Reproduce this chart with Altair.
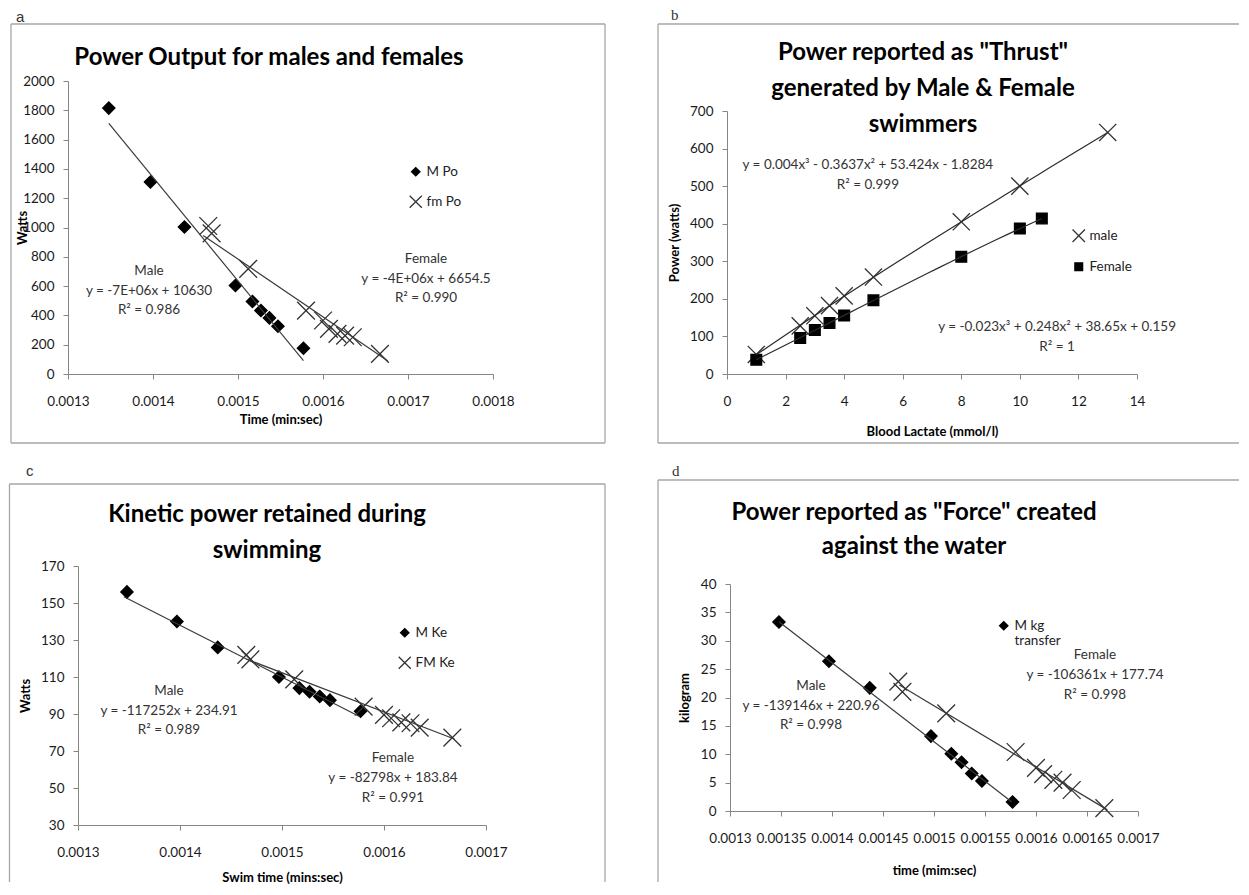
import altair as alt
import pandas as pd

FONT = "Lato"
one = pd.DataFrame({"k": [0]})

# ---------------- data ----------------
male_time = [0.001348, 0.001397, 0.001437, 0.001497, 0.001517, 0.001527, 0.001537, 0.001547, 0.001577]
female_time = [0.001465, 0.001469, 0.001512, 0.00158, 0.0016, 0.001607, 0.001617, 0.001626, 0.001635, 0.001667]

# (a) power output
a_male_watts = [1815, 1311, 1003, 604, 495, 433, 383, 326, 176]
a_female_watts = [1010, 960, 718, 433, 365, 308, 274, 262, 251, 137]
a_male_trend_time = [0.001348, 0.001577]
a_male_trend_watts = [1710, 91]
a_female_trend_time = [0.001459, 0.001676]
a_female_trend_watts = [946, 91]
a_male_note = ["Male", "y = -7E+06x + 10630", "R\u00b2 = 0.986"]
a_male_note_time = 0.0013953
a_male_note_watts = [703, 567, 437]
a_female_note = ["Female", "y = -4E+06x + 6654.5", "R\u00b2 = 0.990"]
a_female_note_time = 0.0017212
a_female_note_watts = [785, 648, 519]

# (b) thrust vs blood lactate
b_male_lactate = [1, 2.5, 3, 3.5, 4, 5, 8, 10, 13]
b_male_power = [52, 128, 155, 182, 208, 258, 405, 500, 643]
b_female_lactate = [1, 2.5, 3, 3.5, 4, 5, 8, 10, 10.75]
b_female_power = [38, 96, 117, 136, 156, 196, 312, 387, 414]
b_male_note = ["y = 0.004x\u00b3 - 0.3637x\u00b2 + 53.424x - 1.8284", "R\u00b2 = 0.999"]
b_male_note_lactate = 4.81
b_male_note_power = [556, 503]
b_female_note = ["y = -0.023x\u00b3 + 0.248x\u00b2 + 38.65x + 0.159", "R\u00b2 = 1"]
b_female_note_lactate = 11.27
b_female_note_power = [125, 72]

# (c) kinetic power
c_male_watts = [156, 140, 126, 110, 104, 102, 99.5, 97.5, 91.5]
c_female_watts = [122, 119.5, 108.7, 94, 89.5, 87.7, 85.5, 85, 82.6, 77.2]
c_male_trend_time = [0.001345, 0.001576]
c_male_trend_watts = [153.4, 88.6]
c_female_trend_time = [0.001465, 0.001669]
c_female_trend_watts = [119.7, 76.5]
c_male_note = ["Male", "y = -117252x + 234.91", "R\u00b2 = 0.989"]
c_male_note_time = 0.0013892
c_male_note_watts = [102.4, 91.6, 81.4]
c_female_note = ["Female", "y = -82798x + 183.84", "R\u00b2 = 0.991"]
c_female_note_time = 0.0016088
c_female_note_watts = [66.2, 55.4, 44.6]

# (d) force
d_male_kg = [33.3, 26.4, 21.7, 13.2, 10.1, 8.6, 6.6, 5.3, 1.6]
d_female_kg = [22.8, 21.0, 17.2, 10.4, 7.6, 6.5, 5.5, 5.0, 3.7, 0.5]
d_male_trend_time = [0.001348, 0.001576]
d_male_trend_kg = [33.35, 1.64]
d_female_trend_time = [0.001466, 0.00167]
d_female_trend_kg = [22.2, 0.2]
d_male_note = ["Male", "y = -139146x + 220.96", "R\u00b2 = 0.998"]
d_male_note_time = 0.0013794
d_male_note_kg = [22.03, 18.5, 15.15]
d_female_note = ["Female", "y = -106361x + 177.74", "R\u00b2 = 0.998"]
d_female_note_time = 0.0016578
d_female_note_kg = [27.49, 23.96, 20.44]

# tick values
time_ticks_a = [0.0013, 0.0014, 0.0015, 0.0016, 0.0017, 0.0018]
time_ticks_c = [0.0013, 0.0014, 0.0015, 0.0016, 0.0017]
time_ticks_d = [0.0013, 0.00135, 0.0014, 0.00145, 0.0015, 0.00155, 0.0016, 0.00165, 0.0017]
watts_ticks_a = list(range(0, 2001, 200))
lactate_ticks = list(range(0, 15, 2))
power_ticks_b = list(range(0, 701, 100))
watts_ticks_c = list(range(30, 171, 20))
kg_ticks_d = list(range(0, 41, 5))


def pts(x, y, name):
    return pd.DataFrame({"x": x, "y": y, "series": name})


def notes(lines, x, ys):
    return pd.DataFrame({"x": [x] * len(lines), "y": ys, "text": lines})


def xpath(k):
    return f"M-{k},-{k}L{k},{k}M-{k},{k}L{k},-{k}"


def panel(cfg):
    xs = alt.Scale(domain=cfg["xdom"], range=[cfg["px0"], cfg["px1"]], nice=False, zero=False)
    ys = alt.Scale(domain=cfg["ydom"], range=[cfg["pyb"], cfg["pyt"]], nice=False, zero=False)
    xa = alt.Axis(values=cfg["xvals"], format=cfg["xfmt"], title=cfg["xtitle"],
                  offset=cfg["pyb"] - cfg["h"], labelPadding=15,
                  titleX=(cfg["px0"] + cfg["px1"]) / 2, titleY=cfg["xtitle_dy"],
                  titleBaseline="middle", titleAlign="center")
    ya = alt.Axis(values=cfg["yvals"], format=cfg["yfmt"], title=cfg["ytitle"],
                  offset=-cfg["px0"], labelPadding=9,
                  titleX=cfg["ytitle_dx"], titleY=(cfg["pyt"] + cfg["pyb"]) / 2,
                  titleBaseline="middle", titleAlign="center", titleAngle=270)
    X = alt.X("x:Q", scale=xs, axis=xa)
    Y = alt.Y("y:Q", scale=ys, axis=ya)

    layers = []
    for (x1, y1, x2, y2) in cfg["frame"]:
        layers.append(alt.Chart(one).mark_rule(color="#a6a6a6", strokeWidth=1.3).encode(
            x=alt.value(x1), y=alt.value(y1), x2=alt.value(x2), y2=alt.value(y2)))
    layers.append(alt.Chart(one).mark_text(
        text=cfg["letter"], font=cfg["letter_font"], fontSize=15, align="left",
        baseline="alphabetic", color="#333").encode(
        x=alt.value(cfg["letter_xy"][0]), y=alt.value(cfg["letter_xy"][1])))
    layers.append(alt.Chart(one).mark_text(
        text=cfg["title"], font=FONT, fontSize=24, fontWeight="bold", align="center",
        baseline="alphabetic", lineHeight=cfg["title_lh"], color="black").encode(
        x=alt.value(cfg["title_xy"][0]), y=alt.value(cfg["title_xy"][1])))

    leg_kw = dict(title=None, orient="none", legendX=cfg["legend_xy"][0], legendY=cfg["legend_xy"][1],
                  direction="vertical", symbolSize=cfg["legend_symbol"], symbolStrokeWidth=1.3,
                  labelFont=FONT, labelFontSize=13.5, labelColor="#222", rowPadding=14,
                  padding=0, labelOffset=4)
    if "legend_values" in cfg:
        leg_kw["values"] = cfg["legend_values"]
    if "legend_expr" in cfg:
        leg_kw["labelExpr"] = cfg["legend_expr"]
    leg = alt.Legend(**leg_kw)
    dom = cfg["series"]
    layers.append(alt.Chart(cfg["points"]).mark_point(
        size=cfg["size"], strokeWidth=1.3, opacity=1).encode(
        x=X, y=Y,
        shape=alt.Shape("series:N", scale=alt.Scale(domain=dom, range=cfg["shapes"]), legend=leg),
        fill=alt.Fill("series:N", scale=alt.Scale(domain=dom, range=cfg["fills"]), legend=leg),
        stroke=alt.Stroke("series:N", scale=alt.Scale(domain=dom, range=cfg["strokes"]), legend=leg),
    ))
    if cfg.get("poly"):
        layers.append(alt.Chart(cfg["points"]).transform_regression(
            "x", "y", groupby=["series"], method="poly", order=3).mark_line(
            color="#2a2a2a", strokeWidth=1.2).encode(x=X, y=Y, detail="series:N"))
    else:
        layers.append(alt.Chart(cfg["trend"]).mark_line(color="#3a3a3a", strokeWidth=1.2).encode(
            x=X, y=Y, detail="series:N"))
    layers.append(alt.Chart(cfg["notes"]).mark_text(
        font=FONT, fontSize=13.5, color="#333", align="center", baseline="middle").encode(
        x=X, y=Y, text="text:N"))
    return alt.layer(*layers).properties(width=cfg["w"], height=cfg["h"])


BLACK = "#000000"
XC = "#333333"

pa = panel(dict(
    w=622, h=452, px0=59, px1=484, pyt=71, pyb=364,
    xdom=[0.0013, 0.0018], ydom=[0, 2000], xvals=time_ticks_a, yvals=watts_ticks_a,
    xfmt="~g", yfmt="d", xtitle="Time (min:sec)", ytitle="Watts", xtitle_dy=45, ytitle_dx=-46,
    frame=[(2, 14, 596, 14), (2, 433, 596, 433), (2, 14, 2, 433), (596, 14, 596, 433)],
    letter="a", letter_font="Liberation Sans", letter_xy=(7, 12),
    title=["Power Output for males and females"], title_lh=36, title_xy=(260, 55),
    legend_xy=(400, 155), legend_symbol=70,
    series=["M Po", "fm Po"], shapes=["diamond", xpath(1.45)], fills=[BLACK, "transparent"],
    strokes=[BLACK, XC], size=150,
    points=pd.concat([pts(male_time, a_male_watts, "M Po"), pts(female_time, a_female_watts, "fm Po")]),
    trend=pd.concat([pts(a_male_trend_time, a_male_trend_watts, "M Po"),
                     pts(a_female_trend_time, a_female_trend_watts, "fm Po")]),
    notes=pd.concat([notes(a_male_note, a_male_note_time, a_male_note_watts),
                     notes(a_female_note, a_female_note_time, a_female_note_watts)]),
))

pb = panel(dict(
    w=608, h=452, px0=96, px1=506, pyt=101, pyb=364,
    xdom=[0, 14], ydom=[0, 700], xvals=lactate_ticks, yvals=power_ticks_b,
    xfmt="d", yfmt="d", xtitle="Blood Lactate (mmol/l)", ytitle="Power (watts)", xtitle_dy=57, ytitle_dx=-53,
    frame=[(27, 14, 608, 14), (27, 433, 608, 433), (27, 14, 27, 433)],
    letter="b", letter_font="Liberation Serif", letter_xy=(40, 10),
    title=['Power reported as "Thrust"', "generated by Male & Female", "swimmers"], title_lh=36,
    title_xy=(292, 50),
    legend_xy=(441, 219), legend_symbol=60,
    series=["male", "Female"], shapes=[xpath(1.6), "square"], fills=["transparent", BLACK],
    strokes=[XC, BLACK], size=115, poly=True,
    points=pd.concat([pts(b_male_lactate, b_male_power, "male"), pts(b_female_lactate, b_female_power, "Female")]),
    notes=pd.concat([notes(b_male_note, b_male_note_lactate, b_male_note_power),
                     notes(b_female_note, b_female_note_lactate, b_female_note_power)]),
))

pc = panel(dict(
    w=622, h=420, px0=69, px1=477, pyt=104, pyb=363,
    xdom=[0.0013, 0.0017], ydom=[30, 170], xvals=time_ticks_c, yvals=watts_ticks_c,
    xfmt="~g", yfmt="d", xtitle="Swim time (mins:sec)", ytitle="Watts", xtitle_dy=52, ytitle_dx=-53,
    frame=[(0.5, 22, 596, 22), (0.5, 22, 0.5, 420), (596, 22, 596, 420)],
    letter="c", letter_font="Liberation Sans", letter_xy=(17, 14),
    title=["Kinetic power retained during", "swimming"], title_lh=35.5, title_xy=(258, 60),
    legend_xy=(389, 164), legend_symbol=70,
    series=["M Ke", "FM Ke"], shapes=["diamond", xpath(1.45)], fills=[BLACK, "transparent"],
    strokes=[BLACK, XC], size=150,
    points=pd.concat([pts(male_time, c_male_watts, "M Ke"), pts(female_time, c_female_watts, "FM Ke")]),
    trend=pd.concat([pts(c_male_trend_time, c_male_trend_watts, "M Ke"),
                     pts(c_female_trend_time, c_female_trend_watts, "FM Ke")]),
    notes=pd.concat([notes(c_male_note, c_male_note_time, c_male_note_watts),
                     notes(c_female_note, c_female_note_time, c_female_note_watts)]),
))

pd_ = panel(dict(
    w=608, h=420, px0=99, px1=507, pyt=122, pyb=349,
    xdom=[0.0013, 0.0017], ydom=[0, 40], xvals=time_ticks_d, yvals=kg_ticks_d,
    xfmt="~g", yfmt="d", xtitle="time (mim:sec)", ytitle="kilogram", xtitle_dy=59, ytitle_dx=-46,
    frame=[(27, 18, 608, 18), (27, 18, 27, 420)],
    letter="d", letter_font="Liberation Serif", letter_xy=(41, 14),
    title=['Power reported as "Force" created', "against the water"], title_lh=34, title_xy=(283, 58),
    legend_xy=(366, 157), legend_symbol=70,
    legend_values=["M kg transfer"],
    legend_expr="datum.label == 'M kg transfer' ? ['M kg', 'transfer'] : datum.label",
    series=["M kg transfer", "F kg transfer"], shapes=["diamond", xpath(1.45)], fills=[BLACK, "transparent"],
    strokes=[BLACK, XC], size=150,
    points=pd.concat([pts(male_time, d_male_kg, "M kg transfer"), pts(female_time, d_female_kg, "F kg transfer")]),
    trend=pd.concat([pts(d_male_trend_time, d_male_trend_kg, "M kg transfer"),
                     pts(d_female_trend_time, d_female_trend_kg, "F kg transfer")]),
    notes=pd.concat([notes(d_male_note, d_male_note_time, d_male_note_kg),
                     notes(d_female_note, d_female_note_time, d_female_note_kg)]),
))

IND = dict(shape="independent", fill="independent", stroke="independent", x="independent", y="independent")
LIND = dict(shape="independent", fill="independent", stroke="independent")

row1 = alt.hconcat(pa, pb, spacing=0).resolve_scale(**IND).resolve_legend(**LIND)
row2 = alt.hconcat(pc, pd_, spacing=0).resolve_scale(**IND).resolve_legend(**LIND)
chart = alt.vconcat(row1, row2, spacing=0).resolve_scale(**IND).resolve_legend(**LIND).properties(
    padding=0, background="white"
).configure_view(
    strokeWidth=0
).configure_axis(
    domainColor="#868686", tickColor="#868686", tickSize=5, grid=False,
    labelFont=FONT, labelFontSize=13.5, labelColor="#1a1a1a", labelFlush=False, labelOverlap=False,
    titleFont=FONT, titleFontSize=13, titleFontWeight="bold", titleColor="black",
)

chart.save("out.html", embed_options={"renderer": "svg", "actions": False})
